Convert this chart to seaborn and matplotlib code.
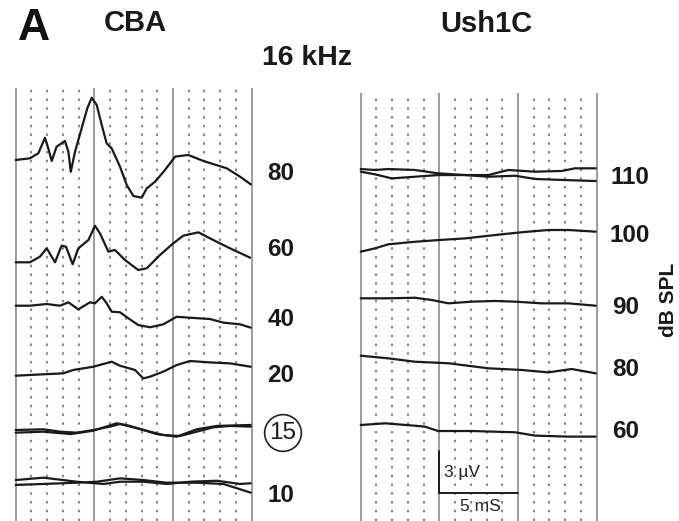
import numpy as np
import pandas as pd
import matplotlib
matplotlib.use("Agg")
import matplotlib.pyplot as plt
import seaborn as sns

sns.set_style("white")
plt.rcParams["font.family"] = ["Liberation Sans", "DejaVu Sans"]

# ---------------- data (time in ms, amplitude in µV relative to trace start) -------------
cba_levels = ["80", "60", "40", "20", "15", "10"]
ush_levels = ["110", "100", "90", "80", "60"]

cba80_t = [0, 0.9, 1.44, 1.86, 2.07, 2.29, 2.6, 3.13, 3.35, 3.5, 3.77, 4.19, 4.55, 4.83, 5.15,
           5.47, 5.78, 6.1, 6.63, 7.06, 7.48, 8.01, 8.33, 8.86, 9.49, 10.13, 10.97, 11.93,
           13.41, 14.26, 14.94]
cba80_a = [0, 0.12, 0.48, 1.59, 0.83, -0.07, 0.95, 1.36, 0.59, -0.84, 0.59, 2.26, 3.69, 4.45,
           3.93, 2.5, 1.19, 0.83, -0.48, -1.79, -2.57, -2.69, -2.02, -1.55, -0.71, 0.24, 0.36,
           -0.07, -0.59, -1.19, -1.74]

cba60_t = [0, 0.9, 1.54, 1.97, 2.5, 2.92, 3.2, 3.62, 3.98, 4.62, 5.04, 5.36, 5.89, 6.31, 6.95,
           7.79, 8.33, 9.17, 10.02, 10.65, 11.61, 12.56, 13.62, 14.9]
cba60_a = [0, 0, 0.4, 1.0, 0, 1.19, 1.11, -0.14, 1.0, 1.59, 2.61, 2.06, 0.76, 0.88, 0.16,
           -0.55, -0.43, 0.52, 1.36, 1.9, 2.14, 1.59, 1.0, 0.33]

cba40_t = [0, 0.9, 1.97, 2.82, 3.35, 3.98, 4.72, 5.04, 5.47, 5.78, 6.1, 6.63, 7.16, 7.79, 8.54,
           9.38, 10.23, 11.08, 12.35, 13.2, 14.26, 14.94]
cba40_a = [0, 0, 0.12, 0, 0.24, -0.26, 0.24, 0.17, 0.64, 0.17, -0.43, -0.47, -0.9, -1.38,
           -1.54, -1.33, -0.79, -0.86, -0.95, -1.21, -1.33, -1.57]

cba20_t = [0, 1.76, 3.03, 3.66, 4.93, 6.1, 6.63, 7.58, 8.11, 8.54, 9.38, 10.23, 11.08, 12.35,
           13.62, 14.94]
cba20_a = [0, 0.1, 0.17, 0.41, 0.64, 1.0, 0.71, 0.41, -0.19, -0.07, 0.29, 0.76, 1.05, 0.95,
           0.88, 0.64]

cba15a_t = [0, 1.76, 2.82, 3.88, 4.93, 6.0, 6.63, 7.48, 8.54, 9.38, 10.44, 11.5, 12.56, 13.62,
            14.94]
cba15a_a = [0, 0.05, -0.12, -0.19, 0, 0.24, 0.43, 0.19, -0.12, -0.36, -0.43, -0.12, 0.19,
            0.29, 0.24]
cba15b_t = [0, 1.76, 3.5, 4.93, 6.42, 7.27, 8.96, 10.23, 11.5, 12.78, 14.94]
cba15b_a = [-0.19, -0.12, -0.29, -0.05, 0.48, 0.29, -0.29, -0.48, 0.05, 0.29, 0.36]

cba10a_t = [0, 1.76, 3.88, 5.57, 6.63, 8.11, 9.6, 11.08, 12.78, 14.26, 14.94]
cba10a_a = [0.14, 0.31, 0.02, -0.14, 0.02, 0.02, -0.14, 0.02, 0.09, -0.14, -0.09]
cba10b_t = [0, 1.76, 3.88, 5.15, 6.63, 8.11, 9.6, 11.5, 13.2, 14.94]
cba10b_a = [-0.21, -0.14, -0.05, 0.02, 0.26, 0.14, -0.05, -0.05, -0.14, -0.76]

ush110a_t = [0, 0.91, 1.76, 3.45, 4.93, 6.63, 8.11, 9.38, 11.08, 12.78, 13.62, 14.94]
ush110a_a = [0.07, 0, 0.07, 0, -0.24, -0.36, -0.36, 0, -0.12, -0.07, 0.12, 0.12]
ush110b_t = [0, 0.91, 1.97, 3.45, 4.93, 6.63, 8.11, 9.81, 11.08, 12.78, 14.94]
ush110b_a = [-0.12, -0.31, -0.6, -0.48, -0.36, -0.36, -0.48, -0.41, -0.64, -0.71, -0.79]

ush100_t = [0, 0.91, 1.76, 3.45, 4.93, 6.63, 8.54, 10.23, 11.93, 13.2, 14.94]
ush100_a = [0, 0.24, 0.53, 0.71, 0.83, 0.95, 1.19, 1.39, 1.55, 1.55, 1.43]

ush90_t = [0, 1.76, 3.45, 4.51, 5.57, 7.06, 8.54, 9.81, 11.5, 13.2, 14.94]
ush90_a = [0, 0, 0.04, -0.12, -0.36, -0.24, -0.19, -0.24, -0.36, -0.36, -0.53]

ush80_t = [0, 1.76, 3.45, 5.57, 8.11, 10.23, 11.93, 13.41, 14.94]
ush80_a = [0, -0.19, -0.43, -0.54, -0.9, -1.02, -1.19, -0.95, -1.26]

ush60_t = [0, 1.55, 3.45, 4.09, 4.93, 7.06, 9.81, 11.08, 13.2, 14.94]
ush60_a = [0, 0.12, -0.05, -0.12, -0.43, -0.43, -0.52, -0.76, -0.83, -0.83]

# ---------------- layout (vertical stacking in µV below top of grid) ----------------
PX_PER_MS = 15.733
PX_PER_UV = 14.0
W, H = 679, 521
GRID_TOP = 88

cba_offsets = {"80": 160, "60": 262.3, "40": 305.7, "20": 375.7, "15": 430, "10": 482}
ush_offsets = {"110": 170, "100": 251.7, "90": 298.3, "80": 355.7, "60": 425}

cba_traces = [("80", cba80_t, cba80_a), ("60", cba60_t, cba60_a), ("40", cba40_t, cba40_a),
              ("20", cba20_t, cba20_a), ("15", cba15a_t, cba15a_a), ("15", cba15b_t, cba15b_a),
              ("10", cba10a_t, cba10a_a), ("10", cba10b_t, cba10b_a)]
ush_traces = [("110", ush110a_t, ush110a_a), ("110", ush110b_t, ush110b_a),
              ("100", ush100_t, ush100_a), ("90", ush90_t, ush90_a),
              ("80", ush80_t, ush80_a), ("60", ush60_t, ush60_a)]


def build_df(traces, offsets):
    rows = []
    for i, (lvl, t, a) in enumerate(traces):
        base = -(offsets[lvl] - GRID_TOP) / PX_PER_UV
        for ti, ai in zip(t, a):
            rows.append({"trace": i, "level": lvl, "time": ti, "y": base + ai})
    return pd.DataFrame(rows)


fig = plt.figure(figsize=(W / 100, H / 100), dpi=100)

XPAD = 0.3
AX_TOP_PX = 80
ylim_top = (GRID_TOP - AX_TOP_PX) / PX_PER_UV
ylim_bot = -(H - GRID_TOP) / PX_PER_UV


def make_ax(x0_px):
    left = x0_px - XPAD * PX_PER_MS
    width = (15 + 2 * XPAD) * PX_PER_MS
    ax = fig.add_axes([left / W, 0, width / W, (H - AX_TOP_PX) / H])
    ax.set_xlim(-XPAD, 15 + XPAD)
    ax.set_ylim(ylim_bot, ylim_top)
    ax.axis("off")
    return ax


def draw_grid(ax, top):
    for x in range(0, 16):
        if x % 5 == 0:
            ax.vlines(x, ylim_bot, top, color="#9c9c9c", lw=1.4, zorder=1)
        else:
            ax.vlines(x, ylim_bot, top, color="#8a8a8a", lw=1.5,
                      linestyles=(0, (1.2, 3.0)), zorder=1)


axL = make_ax(15.7)
axR = make_ax(360.7)
draw_grid(axL, 0)
draw_grid(axR, -(93 - GRID_TOP) / PX_PER_UV)

dfL = build_df(cba_traces, cba_offsets)
dfR = build_df(ush_traces, ush_offsets)
sns.lineplot(data=dfL, x="time", y="y", units="trace", estimator=None, color="#1a1a1a",
             lw=1.6, ax=axL, legend=False, zorder=3)
sns.lineplot(data=dfR, x="time", y="y", units="trace", estimator=None, color="#1a1a1a",
             lw=1.6, ax=axR, legend=False, zorder=3)
for ax in (axL, axR):
    ax.axis("off")

# scale bar (3 µV, 5 ms)
sb_y = -(493 - GRID_TOP) / PX_PER_UV
axR.plot([5, 5, 10], [sb_y + 3, sb_y, sb_y], color="#1a1a1a", lw=1.4, zorder=4,
         solid_joinstyle="miter")
axR.text(5.3, sb_y + 1.45, "3 µV", fontsize=12.5, ha="left", va="center", color="#222")
axR.text(7.6, sb_y - 0.95, "5 mS", fontsize=12.5, ha="center", va="center", color="#222")


def ftext(x, y, s, **kw):
    fig.text(x / W, 1 - y / H, s, **kw)


label_kw = dict(fontsize=17.5, fontweight="bold", ha="center", va="center", color="#1a1a1a")
cba_label_pos = {"80": 173, "60": 250, "40": 320, "20": 375, "15": 433, "10": 495}
for lvl in cba_levels:
    if lvl == "15":
        ftext(283, cba_label_pos[lvl], lvl,
              bbox=dict(boxstyle="circle,pad=0.2", fc="none", ec="#222", lw=1.2),
              **{**label_kw, "fontweight": "normal"})
    else:
        ftext(281, cba_label_pos[lvl], lvl, **label_kw)

ush_label_pos = {"110": (630, 177), "100": (630, 235), "90": (626, 307), "80": (626, 370),
                 "60": (626, 432)}
for lvl in ush_levels:
    x, y = ush_label_pos[lvl]
    ftext(x, y, lvl, **label_kw)

ftext(668, 300, "dB SPL", fontsize=15, fontweight="bold", rotation=90, ha="center",
      va="center", color="#1a1a1a")

ftext(34, 28, "A", fontsize=32, fontweight="bold", ha="center", va="center", color="#111")
ftext(135, 23, "CBA", fontsize=21, fontweight="bold", ha="center", va="center", color="#1a1a1a")
ftext(486, 24, "Ush1C", fontsize=21, fontweight="bold", ha="center", va="center",
      color="#1a1a1a")
ftext(307, 58, "16 kHz", fontsize=20.5, fontweight="bold", ha="center", va="center",
      color="#1a1a1a")

fig.savefig("out.png", dpi=100, facecolor="white")
